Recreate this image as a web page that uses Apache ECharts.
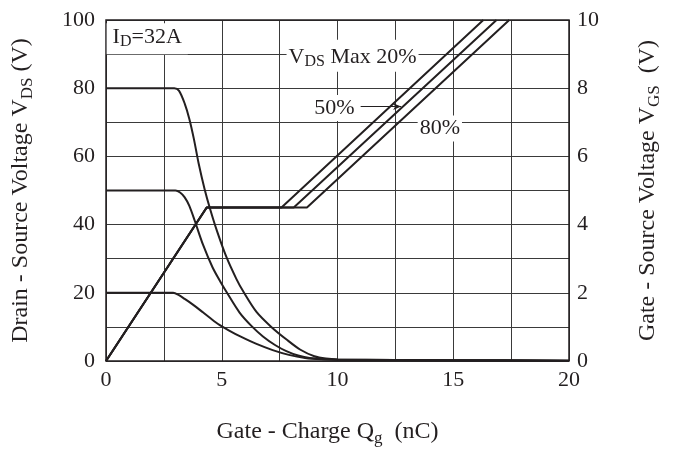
<!DOCTYPE html>
<html>
<head>
<meta charset="utf-8">
<script src="https://cdn.jsdelivr.net/npm/echarts@6/dist/echarts.min.js"></script>
<style>
  html, body { margin: 0; padding: 0; background: #fff; }
  #chart { width: 680px; height: 452px; }
</style>
</head>
<body>
<div id="chart"></div>
<script>
// Gate charge characteristics: Qg (nC) vs VDS (left axis) and VGS (right axis)

// Drain-source voltage during switching, three VDS levels
const vds80 = [[0,80],[2.5,80],[2.95,80],[3.15,79.3],[3.4,75.5],[3.6,71],[3.8,65],[4.0,58],[4.26,50.4],[4.5,44.5],[4.8,38],[5.2,30.5],[5.63,24.1],[5.92,20.5],[6.5,14.4],[7.14,10],[7.8,6.3],[8.4,3.3],[9.0,1.4],[9.5,0.7],[10,0.45],[15,0.25],[20,0.1]];
const vds50 = [[0,50],[2.5,50],[3.0,50],[3.2,49.4],[3.4,48],[3.6,45.5],[3.83,41.2],[4.19,34.1],[4.6,27.5],[4.98,22.8],[5.2,20.3],[5.77,14.2],[6.28,10.3],[6.78,7.2],[7.3,4.7],[7.79,2.9],[8.3,1.6],[8.8,0.9],[10,0.4],[15,0.25],[20,0.1]];
const vds20 = [[0,20],[2.5,20],[2.9,20],[3.15,19.3],[3.4,18.2],[3.62,17.2],[3.9,15.8],[4.2,14.2],[4.5,12.6],[4.9,10.6],[5.3,9.0],[5.8,7.2],[6.5,5.0],[7.2,3.2],[7.9,1.8],[8.6,0.9],[9.3,0.5],[10,0.4],[15,0.25],[20,0.1]];

// Gate-source voltage: charge ramp, Miller plateau, then rise for each VDS level
const vgs20 = [[0,0],[4.35,4.5],[7.58,4.5],[16.3,10]];
const vgs50 = [[0,0],[4.35,4.5],[8.11,4.5],[16.87,10]];
const vgs80 = [[0,0],[4.35,4.5],[8.68,4.5],[17.42,10]];

// Axis ranges and tick steps
const xTicks = { min: 0, max: 20, grid: 2.5, label: 5 };
const leftTicks = { min: 0, max: 100, grid: 10, label: 20 };
const rightTicks = { min: 0, max: 10, step: 2 };

const INK = '#231f20';
const FONT = 'Liberation Serif';
const FS = 22;      // tick labels and annotations
const TS = 24;      // axis titles
const titleRich = {
  n: { fontSize: TS, lineHeight: 30, fontFamily: FONT, color: INK },
  sub: { fontSize: 17, lineHeight: 17, verticalAlign: 'bottom', fontFamily: FONT, color: INK }
};
const noteRich = {
  n: { fontSize: FS, lineHeight: 26, fontFamily: FONT, color: INK },
  sub: { fontSize: 16, lineHeight: 16, verticalAlign: 'bottom', fontFamily: FONT, color: INK }
};

const chart = echarts.init(document.getElementById('chart'), null, { renderer: 'canvas' });

const curve = (name, data, yAxisIndex, extra) => Object.assign({
  name, type: 'line', data, yAxisIndex,
  showSymbol: false, symbol: 'none',
  smooth: 0.3,
  lineStyle: { color: INK, width: 2 },
  silent: true, animation: false, z: 3
}, extra || {});

const note = (text, padding) => ({
  show: true, formatter: text, backgroundColor: '#fff', padding,
  color: INK, fontFamily: FONT, fontSize: FS, rich: noteRich
});

chart.setOption({
  animation: false,
  backgroundColor: '#fff',
  grid: { left: 106, right: 111, top: 20, bottom: 89, show: true, borderColor: INK, borderWidth: 1.5, backgroundColor: 'transparent', z: 4 },
  xAxis: {
    type: 'value', min: xTicks.min, max: xTicks.max, interval: xTicks.grid,
    axisLine: { show: false }, axisTick: { show: false },
    splitLine: { show: true, lineStyle: { color: '#3a3a3a', width: 1 } },
    axisLabel: {
      margin: 8, fontFamily: FONT, fontSize: FS, color: INK,
      formatter: v => (v % xTicks.label === 0 ? String(v) : '')
    },
    name: '{n|Gate - Charge Q}{sub|g}{n|  (nC)}', nameLocation: 'middle', nameGap: 56,
    nameTextStyle: { rich: titleRich, padding: [0, 20, 0, 0] }
  },
  yAxis: [
    {
      type: 'value', min: leftTicks.min, max: leftTicks.max, interval: leftTicks.grid,
      axisLine: { show: false }, axisTick: { show: false },
      splitLine: { show: true, lineStyle: { color: '#3a3a3a', width: 1 } },
      axisLabel: {
        margin: 11, fontFamily: FONT, fontSize: FS, color: INK,
        formatter: v => (v % leftTicks.label === 0 ? String(v) : '')
      },
      name: '{n|Drain - Source Voltage V}{sub|DS}{n| (V)}', nameLocation: 'middle', nameGap: 70, nameRotate: 90,
      nameTextStyle: { rich: titleRich }
    },
    {
      type: 'value', position: 'right', min: rightTicks.min, max: rightTicks.max, interval: rightTicks.step,
      axisLine: { show: false }, axisTick: { show: false }, splitLine: { show: false },
      axisLabel: { margin: 8, fontFamily: FONT, fontSize: FS, color: INK },
      name: '{n|Gate - Source Voltage V}{sub|GS}{n|  (V)}', nameLocation: 'middle', nameGap: 64, nameRotate: 90,
      nameTextStyle: { rich: titleRich }
    }
  ],
  series: [
    curve('VDS 80V', vds80, 0, {
      markPoint: {
        symbol: 'rect', symbolSize: 0, silent: true, animation: false,
        data: [
          { coord: [1.78, 94.5], label: note('{n|I}{sub|D}{n|=32A}', [1, 6, 4, 6]) },
          { coord: [10.65, 89.5], label: note('{n|V}{sub|DS}{n| Max 20%}', [4, 2, 2, 2]) },
          { coord: [9.87, 74.2], label: note('{n|50%}', [0, 2, 0, 2]) },
          { coord: [14.42, 68.2], label: note('{n|80%}', [0, 2, 0, 2]) }
        ]
      },
      markLine: {
        silent: true, animation: false, symbol: ['none', 'arrow'], symbolSize: [5, 8],
        lineStyle: { color: INK, width: 1, type: 'solid' },
        label: { show: false },
        data: [[{ coord: [11.0, 74.6] }, { coord: [12.75, 74.6] }]]
      }
    }),
    curve('VDS 50V', vds50, 0),
    curve('VDS 20V', vds20, 0),
    curve('VGS 20%', vgs20, 1, { smooth: false }),
    curve('VGS 50%', vgs50, 1, { smooth: false }),
    curve('VGS 80%', vgs80, 1, { smooth: false })
  ]
});
</script>
</body>
</html>
